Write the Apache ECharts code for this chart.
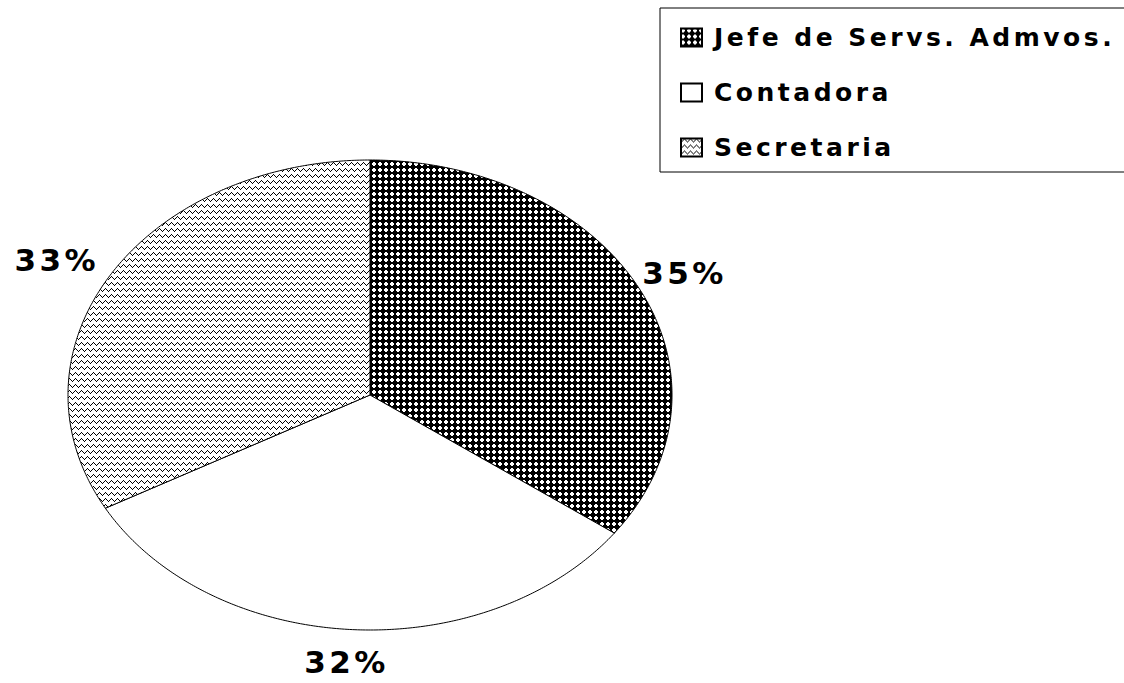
<!DOCTYPE html>
<html>
<head>
<meta charset="utf-8">
<script src="https://cdn.jsdelivr.net/npm/echarts@6/dist/echarts.min.js"></script>
<style>
  html, body { margin: 0; padding: 0; background: #fff; }
  #container { width: 1124px; height: 683px; }
  #container text { letter-spacing: 3.5px; }
</style>
</head>
<body>
<div id="container"></div>
<script>
var categories = ['Jefe de Servs. Admvos.', 'Contadora', 'Secretaria'];
var shares = [35, 32, 33];

// ellipse of the flat pie
var CX = 370, CY = 395, RX = 302, RY = 235;
var FONT = '"DejaVu Sans", "Liberation Sans", Arial, sans-serif';

function tile(rows) {
  var c = document.createElement('canvas');
  c.width = rows[0].length;
  c.height = rows.length;
  var ctx = c.getContext('2d');
  ctx.fillStyle = '#fff';
  ctx.fillRect(0, 0, c.width, c.height);
  ctx.fillStyle = '#000';
  rows.forEach(function (r, y) {
    for (var x = 0; x < r.length; x++) {
      if (r[x] === '#') ctx.fillRect(x, y, 1, 1);
    }
  });
  return { image: c.toDataURL(), repeat: 'repeat', imageWidth: c.width, imageHeight: c.height };
}

var fills = [
  tile(['#..###',
        '....##',
        '....##',
        '#..###',
        '######',
        '######']),
  '#ffffff',
  tile(['...#..',
        '..#.#.',
        '.#...#',
        '#.....',
        '......',
        '......'])
];

function renderSlice(params, api) {
  var i = params.seriesIndex;
  var total = 0, before = 0;
  for (var k = 0; k < shares.length; k++) {
    total += shares[k];
    if (k < i) before += shares[k];
  }
  var a0 = before / total * Math.PI * 2;
  var a1 = (before + api.value(0)) / total * Math.PI * 2;
  var n = Math.ceil((a1 - a0) / (Math.PI / 360));
  var pts = [[CX, CY]];
  for (var s = 0; s <= n; s++) {
    var a = a0 + (a1 - a0) * s / n;
    pts.push([CX + RX * Math.sin(a), CY - RY * Math.cos(a)]);
  }
  var mid = (a0 + a1) / 2;
  var sn = Math.sin(mid), cs = Math.cos(mid);
  var gap = 8;
  var lx = CX + RX * sn + gap * sn - 4;
  var ly = CY - RY * cs - gap * cs + 4;
  var align = sn > 0.3 ? 'left' : (sn < -0.3 ? 'right' : 'center');
  var valign = cs > 0.3 ? 'bottom' : (cs < -0.3 ? 'top' : 'middle');
  if (valign === 'top') ly += 5;
  return {
    type: 'group',
    children: [{
      type: 'polygon',
      shape: { points: pts },
      style: { fill: fills[i], stroke: '#000', lineWidth: 1 }
    }, {
      type: 'text',
      x: lx,
      y: ly,
      style: {
        text: api.value(0) + '%',
        font: 'bold 31px ' + FONT,
        fill: '#000',
        align: align,
        verticalAlign: valign
      }
    }]
  };
}

var myChart = echarts.init(document.getElementById('container'), null, { renderer: 'svg' });

var option = {
  backgroundColor: '#fff',
  animation: false,
  legend: {
    orient: 'vertical',
    left: 660,
    top: 8,
    padding: [17, 200, 12, 20],
    itemGap: 30,
    itemWidth: 21,
    itemHeight: 18,
    icon: 'rect',
    borderColor: '#000',
    borderWidth: 1,
    textStyle: {
      fontFamily: FONT,
      fontWeight: 'bold',
      fontSize: 25,
      lineHeight: 25,
      color: '#000',
      padding: [0, 0, 0, 7]
    },
    data: categories
  },
  series: categories.map(function (name, i) {
    return {
      type: 'custom',
      name: name,
      coordinateSystem: 'none',
      silent: true,
      itemStyle: { color: fills[i], borderColor: '#000', borderWidth: 1 },
      renderItem: renderSlice,
      data: [[shares[i]]]
    };
  })
};

myChart.setOption(option);
</script>
</body>
</html>
